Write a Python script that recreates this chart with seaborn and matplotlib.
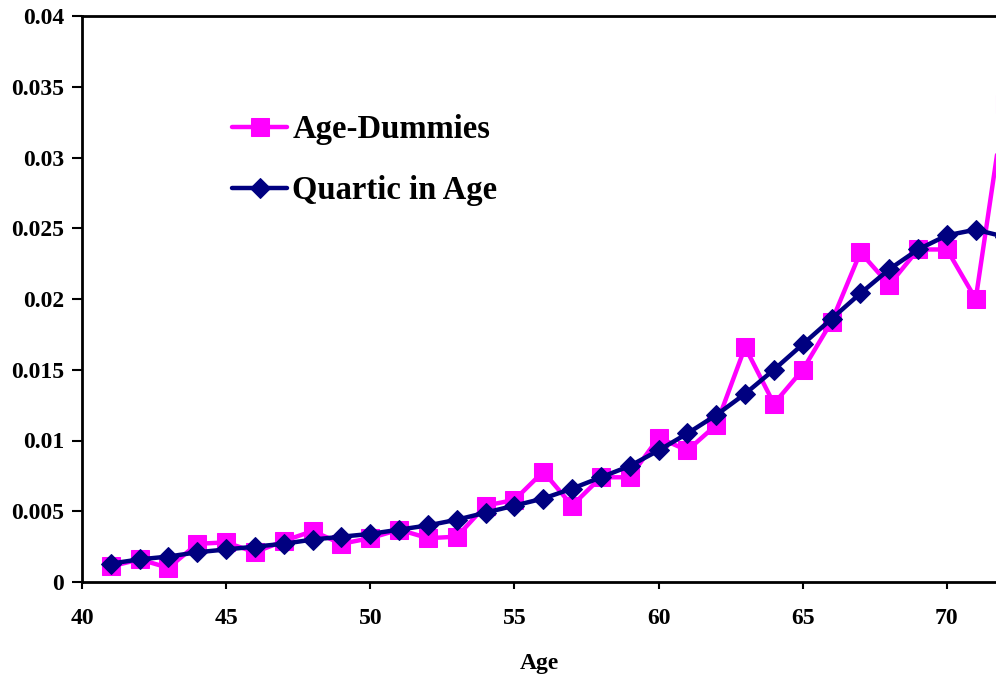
import numpy as np
import pandas as pd
import matplotlib
matplotlib.use("Agg")
import matplotlib.pyplot as plt
import seaborn as sns

# ages and the two hazard estimates
ages = list(range(41, 73))
age_dummies = [0.0011, 0.0016, 0.0010, 0.0027, 0.0028, 0.0021, 0.0029, 0.0036,
               0.0027, 0.0031, 0.0037, 0.0031, 0.0032, 0.0054, 0.0058, 0.0078,
               0.0054, 0.0074, 0.0074, 0.0102, 0.0093, 0.0111, 0.0166, 0.0126,
               0.0150, 0.0184, 0.0233, 0.0210, 0.0235, 0.0235, 0.0200, 0.0338]
quartic = [0.0013, 0.0016, 0.0018, 0.0021, 0.0023, 0.0025, 0.0027, 0.0030,
           0.0032, 0.0034, 0.0037, 0.0040, 0.0044, 0.0049, 0.0054, 0.0059,
           0.0066, 0.0074, 0.0082, 0.0093, 0.0105, 0.0118, 0.0133, 0.0150,
           0.0168, 0.0186, 0.0204, 0.0221, 0.0235, 0.0245, 0.0249, 0.0244]

df = pd.DataFrame({'Age': ages, 'Age-Dummies': age_dummies, 'Quartic in Age': quartic})

sns.set_style("ticks")
plt.rcParams['font.family'] = ['Liberation Serif', 'DejaVu Serif']
plt.rcParams['font.weight'] = 'bold'
plt.rcParams['text.color'] = 'black'

fig = plt.figure(figsize=(9.96, 6.79), dpi=100)
ax = fig.add_axes([82/996, 97/679, 1 - 82/996, (582-16)/679])

sns.lineplot(data=df, x='Age', y='Age-Dummies', color='#FF00FF', marker='s',
             markersize=13, linewidth=3.2, markeredgecolor='#FF00FF',
             label='Age-Dummies', ax=ax)
sns.lineplot(data=df, x='Age', y='Quartic in Age', color='#000080', marker='D',
             markersize=10, linewidth=3.2, markeredgecolor='#000080',
             label='Quartic in Age', ax=ax)

ax.set_xlim(40, 40 + (996 - 82) / 28.83)
ax.set_ylim(0, 0.04)
ax.set_xticks([40, 45, 50, 55, 60, 65, 70])
ax.set_yticks([0, 0.005, 0.01, 0.015, 0.02, 0.025, 0.03, 0.035, 0.04])
ax.set_yticklabels(['0', '0.005', '0.01', '0.015', '0.02', '0.025', '0.03', '0.035', '0.04'])
ax.tick_params(axis='y', labelsize=17, width=1.5, length=7, pad=6, colors='black')
ax.tick_params(axis='x', labelsize=17, width=1.5, length=5, pad=14, colors='black')
for lab in ax.get_xticklabels() + ax.get_yticklabels():
    lab.set_fontweight('bold')
ax.set_xlabel('Age', fontsize=17, fontweight='bold', labelpad=17, color='black')
ax.set_ylabel('')

ax.spines['right'].set_visible(False)
for s in ['left', 'top', 'bottom']:
    ax.spines[s].set_linewidth(2)
    ax.spines[s].set_color('black')

leg = ax.legend(loc='center left', bbox_to_anchor=(0.146, 0.745), frameon=False,
                prop={'family': 'Liberation Serif', 'weight': 'bold', 'size': 23.5},
                handlelength=1.7, handletextpad=0.15, labelspacing=0.92, borderpad=0)
for t in leg.get_texts():
    t.set_color('black')

fig.savefig('out.png', dpi=100, facecolor='white')
